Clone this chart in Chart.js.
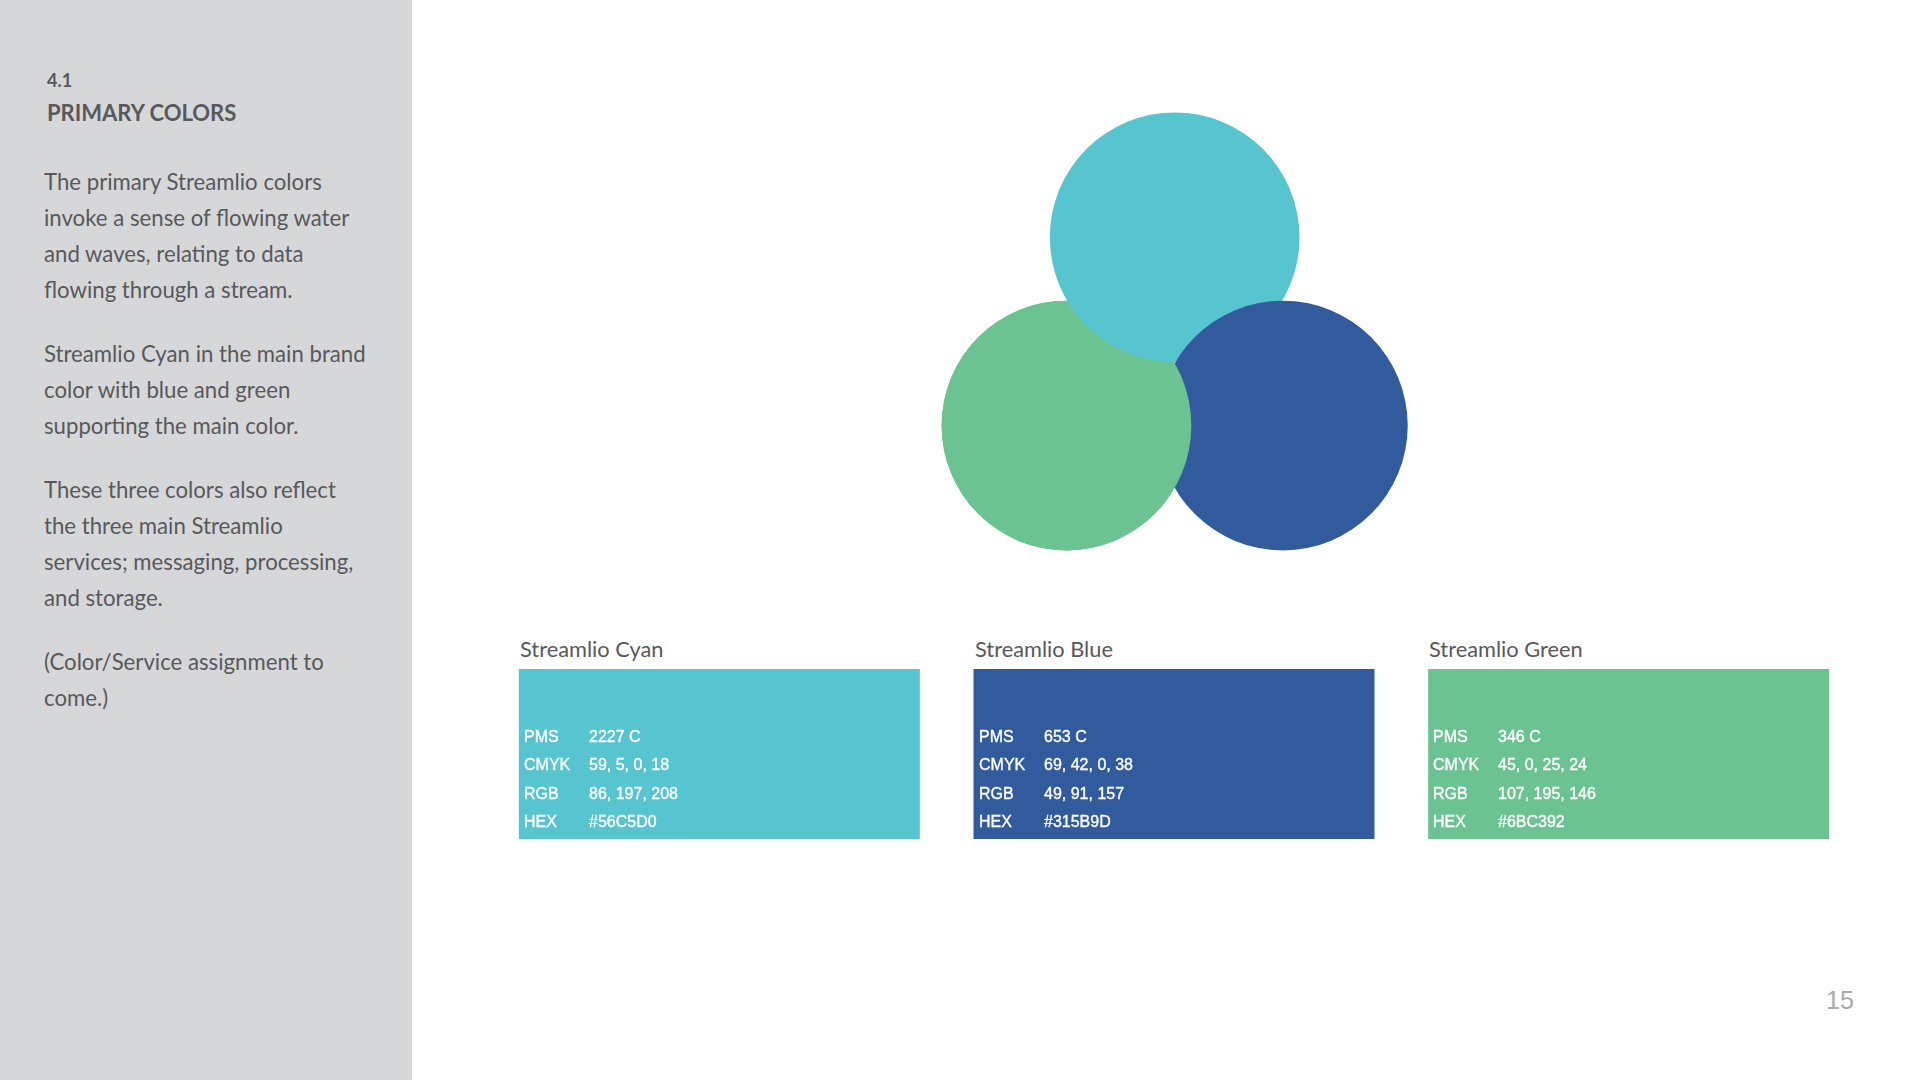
<!DOCTYPE html>
<html>
<head>
<meta charset="utf-8">
<script src="https://cdn.jsdelivr.net/npm/chart.js@4.4.1/dist/chart.umd.min.js"></script>
<style>
  html, body { margin: 0; padding: 0; }
  body { width: 1920px; height: 1080px; position: relative; background: #fff; overflow: hidden; }
  .panel { position: absolute; left: 0; top: 0; width: 412px; height: 1080px; background: #d6d7d9; }
  .num { position: absolute; left: 47px; top: 69px; font: bold 18px Lato, sans-serif; color: #58595b; }
  .title { position: absolute; left: 47px; top: 99px; font: bold 22px Lato, sans-serif; color: #58595b; }
  .body { position: absolute; left: 44px; top: 164px; width: 360px; font: 22.2px Lato, sans-serif; line-height: 36px; color: #58595b; }
  .body p { margin: 0 0 28px 0; }
  #circles { position: absolute; left: 915px; top: 101px; }
  #swatches { position: absolute; left: 492px; top: 669px; }
  .swname { position: absolute; top: 635px; font: 21.8px Lato, sans-serif; color: #58595b; }
  .swtext { position: absolute; top: 723px; font: 16px "Liberation Sans", Arial, sans-serif; color: #fff; line-height: 28.3px; -webkit-text-stroke: 0.35px #fff; }
  .swtext span { display: inline-block; width: 65px; }
  .page { position: absolute; left: 1826px; top: 986px; font: 25px "Liberation Sans", Arial, sans-serif; color: #a7a9ac; }
</style>
</head>
<body>
<div class="panel"></div>
<div class="num">4.1</div>
<div class="title">PRIMARY COLORS</div>
<div class="body">
  <p>The primary Streamlio colors<br>invoke a sense of flowing water<br>and waves, relating to data<br>flowing through a stream.</p>
  <p>Streamlio Cyan in the main brand<br>color with blue and green<br>supporting the main color.</p>
  <p>These three colors also reflect<br>the three main Streamlio<br>services; messaging, processing,<br>and storage.</p>
  <p>(Color/Service assignment to<br>come.)</p>
</div>
<canvas id="circles" width="541" height="476"></canvas>
<canvas id="swatches" width="1364" height="170"></canvas>
<div id="labels"></div>
<div class="page">15</div>
<script>
// swatch data
const swatchNames = ["Streamlio Cyan", "Streamlio Blue", "Streamlio Green"];
const pmsValues = ["2227 C", "653 C", "346 C"];
const cmykValues = ["59, 5, 0, 18", "69, 42, 0, 38", "45, 0, 25, 24"];
const rgbValues = ["86, 197, 208", "49, 91, 157", "107, 195, 146"];
const hexValues = ["#56C5D0", "#315B9D", "#6BC392"];

// circle centres (units = distance between centres)
const circleNames = ["Green", "Cyan", "Blue"];
const circleX = [0, 0.5, 1];
const circleY = [0, 0.87, 0];
const circleColors = ["#6BC392", "#56C5D0", "#315B9D"];
const circleRadius = 0.577;

// titles and text under each swatch
const labelsDiv = document.getElementById("labels");
const swatchLeft = [519, 974, 1428];
swatchNames.forEach((name, i) => {
  const t = document.createElement("div");
  t.className = "swname";
  t.style.left = swatchLeft[i] + 1 + "px";
  t.textContent = name;
  labelsDiv.appendChild(t);
  const s = document.createElement("div");
  s.className = "swtext";
  s.style.left = swatchLeft[i] + 5 + "px";
  s.innerHTML =
    "<span>PMS</span>" + pmsValues[i] + "<br>" +
    "<span>CMYK</span>" + cmykValues[i] + "<br>" +
    "<span>RGB</span>" + rgbValues[i] + "<br>" +
    "<span>HEX</span>" + hexValues[i];
  labelsDiv.appendChild(s);
});

// swatch boxes as bars
new Chart(document.getElementById("swatches"), {
  type: "bar",
  data: {
    labels: swatchNames,
    datasets: [{
      data: swatchNames.map(() => 1),
      backgroundColor: hexValues,
      borderWidth: 0,
      categoryPercentage: 1,
      barPercentage: 0.882,
    }],
  },
  options: {
    responsive: false,
    animation: false,
    events: [],
    layout: { padding: 0 },
    plugins: { legend: { display: false }, tooltip: { enabled: false } },
    scales: {
      x: { display: false },
      y: { display: false, min: 0, max: 1 },
    },
  },
});

// pixels for the radius, from the x scale
function radiusPx(c) {
  const xs = c.chart.scales.x;
  return Math.abs(xs.getPixelForValue(circleRadius) - xs.getPixelForValue(0));
}

// green has to sit over blue but under cyan, so it is drawn again outside cyan
const pinwheelClip = {
  id: "pinwheelClip",
  beforeDatasetDraw(chart, args) {
    if (args.index !== 0) return;
    const ctx = chart.ctx;
    const xs = chart.scales.x, ys = chart.scales.y;
    ctx.save();
    ctx.beginPath();
    ctx.rect(0, 0, chart.width, chart.height);
    ctx.arc(xs.getPixelForValue(circleX[1]), ys.getPixelForValue(circleY[1]),
      radiusPx({ chart: chart }), 0, Math.PI * 2);
    ctx.clip("evenodd");
  },
  afterDatasetDraw(chart, args) {
    if (args.index !== 0) return;
    chart.ctx.restore();
  },
};

const points = circleX.map((x, i) => ({ x: x, y: circleY[i] }));

new Chart(document.getElementById("circles"), {
  type: "scatter",
  data: {
    datasets: [
      {
        label: "Green (over blue)",
        data: [points[0]],
        backgroundColor: circleColors[0],
        pointRadius: radiusPx,
        pointHoverRadius: radiusPx,
        borderWidth: 0,
        clip: false,
      },
      {
        label: "Circles",
        data: points,
        backgroundColor: circleColors,
        pointRadius: radiusPx,
        pointHoverRadius: radiusPx,
        borderWidth: 0,
        clip: false,
      },
    ],
  },
  options: {
    responsive: false,
    animation: false,
    events: [],
    layout: { padding: 0 },
    plugins: { legend: { display: false }, tooltip: { enabled: false } },
    scales: {
      x: { type: "linear", display: false, min: -0.7, max: 1.8 },
      y: { type: "linear", display: false, min: -0.7, max: 1.5 },
    },
  },
  plugins: [pinwheelClip],
});
</script>
</body>
</html>
